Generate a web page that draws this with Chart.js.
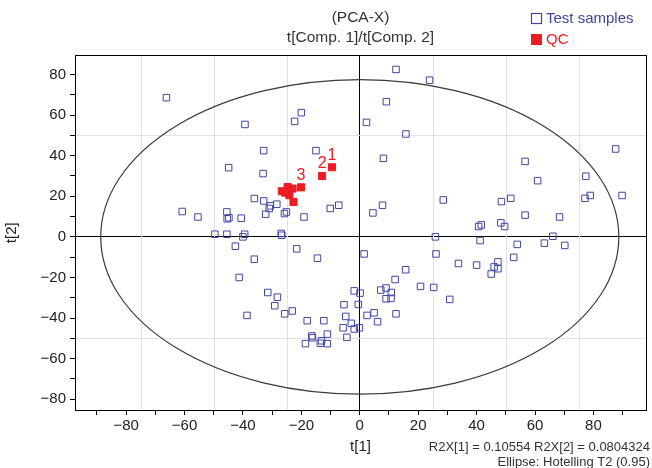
<!DOCTYPE html>
<html>
<head>
<meta charset="utf-8">
<title>PCA-X scores t[1]/t[2]</title>
<script src="https://cdn.jsdelivr.net/npm/chart.js@4.4.1/dist/chart.umd.min.js"></script>
<style>
  html, body { margin: 0; padding: 0; background: #fff; }
  #wrap { width: 652px; height: 468px; }
</style>
</head>
<body>
<div id="wrap"><canvas id="pcaChart" width="652" height="468"></canvas></div>
<script>
// score values: t[1] (x) and t[2] (y)
const sampleT1 = [-66.2, -39.3, -32.9, -44.9, -33.1, -36.1, -32.9, -31.0, -30.6, -28.4, -32.2, -60.8, -55.4, -45.5, -45.4, -44.8, -40.6, -49.6, -45.5, -39.4, -40.0, -42.6,
  12.4, 23.9, -20.0, -22.3, 9.1, 2.3, 15.8, -15.0, 8.1, -25.8, -25.1, -19.1, -10.1, -7.2, 4.5, 7.8, 28.6, -26.9, -26.7, 25.9,
  87.6, 56.6, 60.9, 77.4, 77.1, 78.9, 89.8, 48.5, 51.7, 56.6, 68.4, 40.7, 41.6, 48.3, 49.6, 66.1,
  41.2, 53.9, 63.2, 70.2, 33.8, 40.0, 47.3, 46.0, 47.3, 45.0, 52.7,
  -21.6, -14.5, 1.5, 26.1, 15.7, 12.1, 20.8, 25.3, 30.8, 9.0, 7.2, 10.8, 9.0, 10.7, 12.4, 4.9, 6.1, 2.5,
  -1.9, 0.1, -0.5, -5.4, -4.8, -2.9, -5.7, -1.9, -0.1, -4.4, -31.5, -28.2, -29.1, -25.7, -23.1, -18.0, -12.3,
  -16.4, -16.2, -11.1, -18.6, -13.5, -13.1, -11.1,
  -36.1, -41.3, -38.6];
const sampleT2 = [68.6, 55.4, 42.5, 34.1, 31.2, 18.9, 17.7, 14.0, 15.3, 16.1, 11.2, 12.5, 9.8, 12.3, 8.9, 9.4, 9.2, 1.3, 1.3, 1.3, 0.0, -4.6,
  82.5, 77.2, 61.2, 56.9, 66.6, 56.4, 50.7, 42.5, 38.7, 11.5, 12.3, 9.8, 14.0, 15.6, 11.8, 15.6, 18.2, 1.7, 0.8, 0.0,
  43.3, 37.2, 27.7, 29.9, 19.0, 20.4, 20.4, 17.4, 19.0, 10.7, 9.8, 5.1, 5.9, 6.9, 5.1, 0.3,
  -1.8, -3.7, -3.1, -4.2, -13.1, -13.9, -12.3, -14.8, -15.7, -18.3, -10.1,
  -5.9, -10.5, -8.4, -8.4, -16.2, -21.0, -24.4, -24.9, -30.8, -25.2, -26.2, -27.4, -30.5, -30.3, -37.9, -37.4, -41.8, -38.7,
  -26.6, -27.7, -33.3, -33.4, -39.2, -42.6, -44.8, -45.4, -44.8, -49.5, -27.4, -29.7, -33.9, -37.9, -36.5, -41.3, -41.3,
  -48.8, -49.7, -47.9, -52.6, -52.4, -51.2, -52.6,
  -11.0, -20.0, -38.7];

const qcT1 = [-9.5, -12.9, -20.1, -26.7, -24.7, -23.0, -24.1, -22.7, -25.5];
const qcT2 = [34.3, 30.0, 24.4, 22.5, 24.6, 23.8, 20.5, 17.2, 21.8];
const qcLabels = ['1', '2', '3'];

const titleLines = ['(PCA-X)', 't[Comp. 1]/t[Comp. 2]'];
const footLines = ['R2X[1] = 0.10554 R2X[2] = 0.0804324', 'Ellipse: Hotelling T2 (0.95)'];

const xRange = [-97.5, 98];
const yRange = [-85.3, 89.4];
const ellipseAxes = [88.7, 77.5]; // Hotelling T2 (0.95) semi-axes in t[1], t[2] units
const xGridStep = 25;
const yGridStep = 50;

const BLUE = '#4146a0';
const RED = '#ec1c24';
const FONT = '"Liberation Sans", Arial, Helvetica, sans-serif';

function minus(v) {
  return String(v).replace('-', '\u2212');
}

const plotDecor = {
  id: 'plotDecor',
  beforeDatasetsDraw(chart) {
    const { ctx, chartArea: a, scales: { x, y } } = chart;
    ctx.save();

    // light reference grid
    ctx.strokeStyle = '#e2e2e2';
    ctx.lineWidth = 1;
    ctx.beginPath();
    for (let v = Math.ceil(xRange[0] / xGridStep) * xGridStep; v <= xRange[1]; v += xGridStep) {
      if (v === 0) continue;
      const px = Math.round(x.getPixelForValue(v)) + 0.5;
      ctx.moveTo(px, a.top);
      ctx.lineTo(px, a.bottom);
    }
    for (let v = Math.ceil(yRange[0] / yGridStep) * yGridStep; v <= yRange[1]; v += yGridStep) {
      if (v === 0) continue;
      const py = Math.round(y.getPixelForValue(v)) + 0.5;
      ctx.moveTo(a.left, py);
      ctx.lineTo(a.right, py);
    }
    ctx.stroke();

    // Hotelling T2 ellipse
    const cx = x.getPixelForValue(0);
    const cy = y.getPixelForValue(0);
    const rx = x.getPixelForValue(ellipseAxes[0]) - cx;
    const ry = cy - y.getPixelForValue(ellipseAxes[1]);
    ctx.strokeStyle = '#3a3a3a';
    ctx.lineWidth = 1.2;
    ctx.beginPath();
    ctx.ellipse(cx, cy, rx, ry, 0, 0, Math.PI * 2);
    ctx.stroke();

    // frame
    ctx.strokeStyle = '#000';
    ctx.lineWidth = 1;
    ctx.strokeRect(Math.round(a.left) + 0.5, Math.round(a.top) + 0.5,
      Math.round(a.right - a.left), Math.round(a.bottom - a.top));
    ctx.restore();
  },
  afterDatasetsDraw(chart) {
    const { ctx } = chart;
    const meta = chart.getDatasetMeta(1);
    ctx.save();
    ctx.fillStyle = RED;
    ctx.font = '16px ' + FONT;
    ctx.textAlign = 'center';
    ctx.textBaseline = 'bottom';
    qcLabels.forEach((lab, i) => {
      const pt = meta.data[i];
      ctx.fillText(lab, pt.x, pt.y - 4);
    });
    ctx.restore();
  },
  afterDraw(chart) {
    const { ctx } = chart;
    ctx.save();
    // legend
    ctx.font = '15px ' + FONT;
    ctx.textAlign = 'left';
    ctx.textBaseline = 'middle';
    chart.data.datasets.forEach((ds, i) => {
      const cy = 19 + i * 21;
      ctx.lineWidth = 1.2;
      if (i === 0) {
        ctx.strokeStyle = ds.borderColor;
        ctx.strokeRect(531.5, cy - 5.5, 10, 10);
      } else {
        ctx.fillStyle = ds.backgroundColor;
        ctx.fillRect(531, cy - 6, 11, 11);
      }
      ctx.fillStyle = ds.borderColor;
      ctx.fillText(ds.label, 546, cy);
    });
    // footnote
    ctx.fillStyle = '#333';
    ctx.font = '13px ' + FONT;
    ctx.textAlign = 'right';
    footLines.forEach((t, i) => ctx.fillText(t, 650, 447 + i * 15));
    ctx.restore();
  }
};

new Chart(document.getElementById('pcaChart'), {
  type: 'scatter',
  data: {
    datasets: [{
      label: 'Test samples',
      data: sampleT1.map((v, i) => ({ x: v, y: sampleT2[i] })),
      pointStyle: 'rect',
      pointRadius: 4.6,
      borderWidth: 1,
      borderColor: BLUE,
      backgroundColor: 'rgba(0,0,0,0)'
    }, {
      label: 'QC',
      data: qcT1.map((v, i) => ({ x: v, y: qcT2[i] })),
      pointStyle: 'rect',
      pointRadius: 5,
      borderWidth: 1,
      borderColor: RED,
      backgroundColor: RED
    }]
  },
  options: {
    responsive: false,
    animation: false,
    devicePixelRatio: 1,
    events: [],
    layout: { padding: { top: 0, right: 3, bottom: 8, left: 0 } },
    plugins: {
      legend: { display: false },
      tooltip: { enabled: false },
      title: {
        display: true,
        fullSize: false,
        text: titleLines,
        color: '#333',
        font: { family: FONT, size: 15.5, weight: 'normal', lineHeight: 1.24 },
        padding: { top: 8.5, bottom: 8.5 }
      }
    },
    scales: {
      x: {
        type: 'linear',
        min: xRange[0],
        max: xRange[1],
        afterFit: s => { s.height = 50; },
        border: { display: true, color: '#000', width: 1 },
        grid: {
          color: c => (c.tick && c.tick.value === 0 ? '#000' : 'rgba(0,0,0,0)'),
          tickColor: '#000',
          tickLength: 5,
          lineWidth: 1
        },
        ticks: {
          stepSize: 10,
          includeBounds: false,
          maxRotation: 0,
          autoSkip: false,
          padding: 2,
          color: '#222',
          font: { family: FONT, size: 15 },
          callback: v => (v % 20 === 0 ? minus(v) : '')
        },
        title: {
          display: true,
          text: 't[1]',
          color: '#222',
          font: { family: FONT, size: 15 },
          padding: { top: 4, bottom: 4 }
        }
      },
      y: {
        type: 'linear',
        min: yRange[0],
        max: yRange[1],
        afterFit: s => { s.width = 75; },
        border: { display: true, color: '#000', width: 1 },
        grid: {
          color: c => (c.tick && c.tick.value === 0 ? '#000' : 'rgba(0,0,0,0)'),
          tickColor: '#000',
          tickLength: 5,
          lineWidth: 1
        },
        ticks: {
          stepSize: 10,
          includeBounds: false,
          autoSkip: false,
          padding: 4,
          color: '#222',
          font: { family: FONT, size: 15 },
          callback: v => (v % 20 === 0 ? minus(v) : '')
        },
        title: {
          display: true,
          text: 't[2]',
          color: '#222',
          font: { family: FONT, size: 15 },
          padding: { top: 3, bottom: 4 }
        }
      }
    }
  },
  plugins: [plotDecor]
});
</script>
</body>
</html>
